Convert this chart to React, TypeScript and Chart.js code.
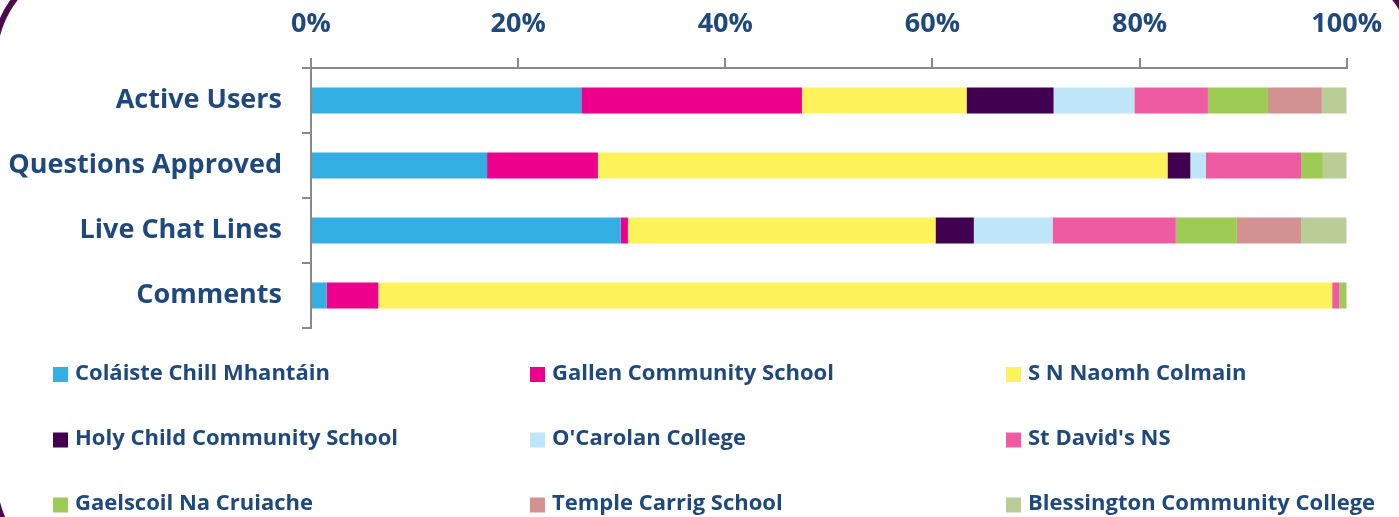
import React, { useEffect, useRef } from "react";
import { Chart, registerables } from "chart.js";

Chart.register(...registerables);

// ---- data ----
const categories = ["Active Users", "Questions Approved", "Live Chat Lines", "Comments"];

const schoolNames = [
  "Coláiste Chill Mhantáin",
  "Gallen Community School",
  "S N Naomh Colmain",
  "Holy Child Community School",
  "O'Carolan College",
  "St David's NS",
  "Gaelscoil Na Cruiache",
  "Temple Carrig School",
  "Blessington Community College",
];

const colaisteChill = [26.1, 17.0, 29.9, 1.5];
const gallenCS = [21.3, 10.7, 0.7, 5.0];
const snNaomhColmain = [15.9, 55.0, 29.7, 92.1];
const holyChildCS = [8.4, 2.2, 3.7, 0];
const oCarolan = [7.8, 1.5, 7.6, 0];
const stDavids = [7.1, 9.2, 11.9, 0.7];
const gaelscoil = [5.8, 2.1, 5.9, 0.7];
const templeCarrig = [5.2, 0, 6.2, 0];
const blessington = [2.4, 2.3, 4.4, 0];

const seriesValues = [
  colaisteChill,
  gallenCS,
  snNaomhColmain,
  holyChildCS,
  oCarolan,
  stDavids,
  gaelscoil,
  templeCarrig,
  blessington,
];

const seriesColors = [
  "#33AFE3",
  "#EC008C",
  "#FFF35C",
  "#420050",
  "#BEE5F8",
  "#EF5BA1",
  "#9ECB55",
  "#D29291",
  "#BACD96",
];

const xTickValues = [0, 20, 40, 60, 80, 100];

// ---- styles ----
const TEXT = "#1F497D";
const AXIS = "#898989";
const FONT = "'Open Sans'";

const framePlugin = {
  id: "frame",
  afterDraw(chart: any) {
    const ctx = chart.ctx;
    ctx.save();
    ctx.strokeStyle = "#4B0A4E";
    ctx.lineWidth = 6;
    const l = -6, t = -40, r = 1416, b = 578, R = 100;
    ctx.beginPath();
    ctx.moveTo(l + R, t);
    ctx.lineTo(r - R, t);
    ctx.arcTo(r, t, r, t + R, R);
    ctx.lineTo(r, b - R);
    ctx.arcTo(r, b, r - R, b, R);
    ctx.lineTo(l + R, b);
    ctx.arcTo(l, b, l, b - R, R);
    ctx.lineTo(l, t + R);
    ctx.arcTo(l, t, l + R, t, R);
    ctx.closePath();
    ctx.stroke();
    ctx.restore();
  },
};

const gridLegendPlugin = {
  id: "gridLegend",
  afterDraw(chart: any) {
    const ctx = chart.ctx;
    const colX = [53, 530, 1006];
    const rowY = [374.5, 440, 505];
    ctx.save();
    ctx.font = `bold 22px ${FONT}`;
    ctx.textBaseline = "middle";
    ctx.textAlign = "left";
    chart.data.datasets.forEach((ds: any, i: number) => {
      const x = colX[i % 3];
      const y = rowY[Math.floor(i / 3)];
      ctx.fillStyle = ds.backgroundColor;
      ctx.fillRect(x, y - 7.5, 15, 15);
      ctx.fillStyle = TEXT;
      ctx.fillText(ds.label, x + 22, y - 1);
    });
    ctx.restore();
  },
};

export default function App() {
  const canvasRef = useRef<HTMLCanvasElement | null>(null);

  useEffect(() => {
    if (!canvasRef.current) return;
    const chart = new Chart(canvasRef.current, {
      type: "bar",
      data: {
        labels: categories,
        datasets: schoolNames.map((name, i) => ({
          label: name,
          data: seriesValues[i],
          backgroundColor: seriesColors[i],
          borderWidth: 0,
          categoryPercentage: 1,
          barPercentage: 0.4,
        })),
      },
      options: {
        indexAxis: "y",
        animation: false,
        responsive: false,
        devicePixelRatio: 1,
        layout: { padding: { left: 0, top: 0, right: 52, bottom: 189 } },
        plugins: {
          legend: { display: false },
          tooltip: { enabled: false },
        },
        scales: {
          x: {
            type: "linear",
            position: "top",
            stacked: true,
            min: 0,
            max: 100,
            afterBuildTicks: (scale: any) => {
              scale.ticks = xTickValues.map((v) => ({ value: v }));
            },
            afterFit: (scale: any) => {
              scale.height = 68;
            },
            ticks: {
              color: TEXT,
              font: { family: FONT, size: 27, weight: "bold" },
              padding: 17,
              callback: (v: any) => v + "%",
              maxRotation: 0,
            },
            grid: {
              drawOnChartArea: false,
              drawTicks: true,
              tickLength: 10,
              color: AXIS,
              lineWidth: 2,
            },
            border: { display: true, color: AXIS, width: 2 },
          },
          y: {
            stacked: true,
            afterFit: (scale: any) => {
              scale.width = 311;
            },
            ticks: {
              color: TEXT,
              font: { family: FONT, size: 27, weight: "bold" },
              padding: 20,
            },
            grid: {
              offset: true,
              drawOnChartArea: false,
              drawTicks: true,
              tickLength: 9,
              color: AXIS,
              lineWidth: 2,
            },
            border: { display: true, color: AXIS, width: 2 },
          },
        },
      } as any,
      plugins: [gridLegendPlugin, framePlugin],
    });
    return () => chart.destroy();
  }, []);

  return (
    <div style={{ position: "fixed", left: 0, top: 0, width: 1399, height: 517, background: "#fff" }}>
      <canvas ref={canvasRef} width={1399} height={517} style={{ display: "block" }} />
    </div>
  );
}
